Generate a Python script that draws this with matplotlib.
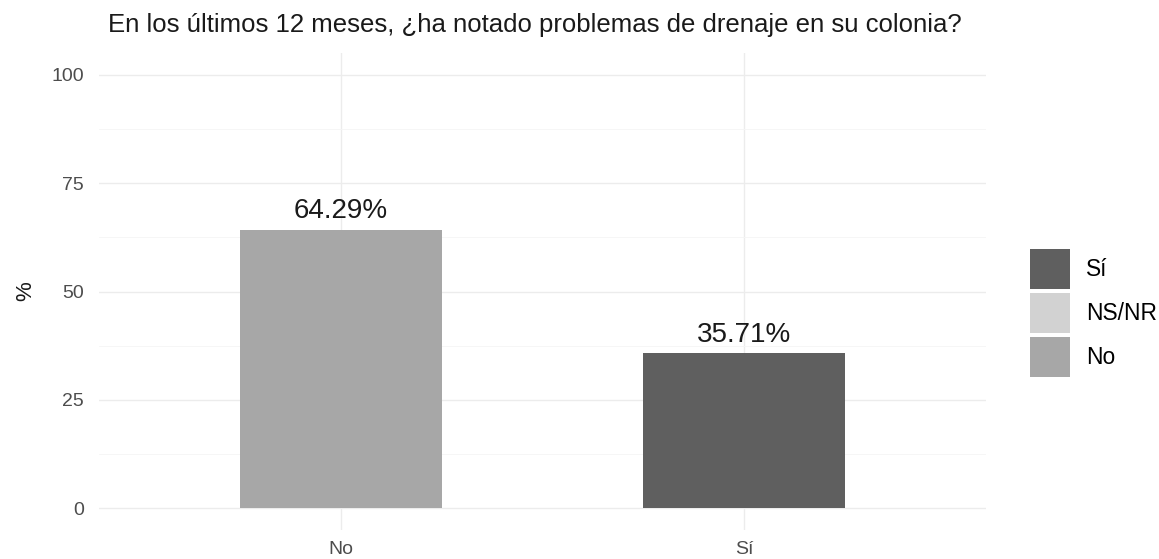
import matplotlib.pyplot as plt
from matplotlib.patches import Patch

plt.rcParams["font.family"] = ["Liberation Sans", "DejaVu Sans"]

categories = ["No", "Sí"]
values = [64.29, 35.71]
labels = ["64.29%", "35.71%"]
bar_colors = {"No": "#a7a7a7", "Sí": "#5f5f5f", "NS/NR": "#d2d2d2"}
legend_order = ["Sí", "NS/NR", "No"]
yticks = [0, 25, 50, 75, 100]

fig = plt.figure(figsize=(11.59, 5.59), dpi=100)
ax = fig.add_axes([0.0854, 0.0519, 0.7653, 0.8531])

x = list(range(len(categories)))
ax.bar(x, values, width=0.5, color=[bar_colors[c] for c in categories], zorder=2)
for xi, v, lab in zip(x, values, labels):
    ax.text(xi, v + 1.2, lab, ha="center", va="bottom", fontsize=20, color="#1a1a1a")

ax.set_xlim(-0.6, len(categories) - 0.4)
ax.set_ylim(-5, 105)
ax.set_xticks(x)
ax.set_xticklabels(categories)
ax.set_yticks(yticks)
ax.set_yticks([12.5, 37.5, 62.5, 87.5], minor=True)
ax.tick_params(axis="both", length=0, labelsize=14, labelcolor="#4d4d4d")
ax.tick_params(axis="y", pad=11)
ax.tick_params(axis="x", pad=8)
ax.tick_params(which="minor", length=0)
ax.grid(which="major", color="#ececec", lw=1.0, zorder=0)
ax.grid(which="minor", axis="y", color="#f5f5f5", lw=0.6, zorder=0)
for s in ax.spines.values():
    s.set_visible(False)

ax.set_ylabel("%", fontsize=16, color="#1a1a1a", labelpad=11)
fig.text(0.093, 0.955, "En los últimos 12 meses, ¿ha notado problemas de drenaje en su colonia?",
         fontsize=18.5, color="#1a1a1a", va="center", ha="left")

handles = [Patch(facecolor=bar_colors[k], edgecolor="none") for k in legend_order]
fig.legend(handles, legend_order, loc="center left", bbox_to_anchor=(0.8887, 0.44),
           frameon=False, fontsize=16.4, handlelength=1.76, handleheight=2.32,
           handletextpad=0.7, labelspacing=0.175, borderaxespad=0, borderpad=0)

fig.savefig("out.png", dpi=100)
